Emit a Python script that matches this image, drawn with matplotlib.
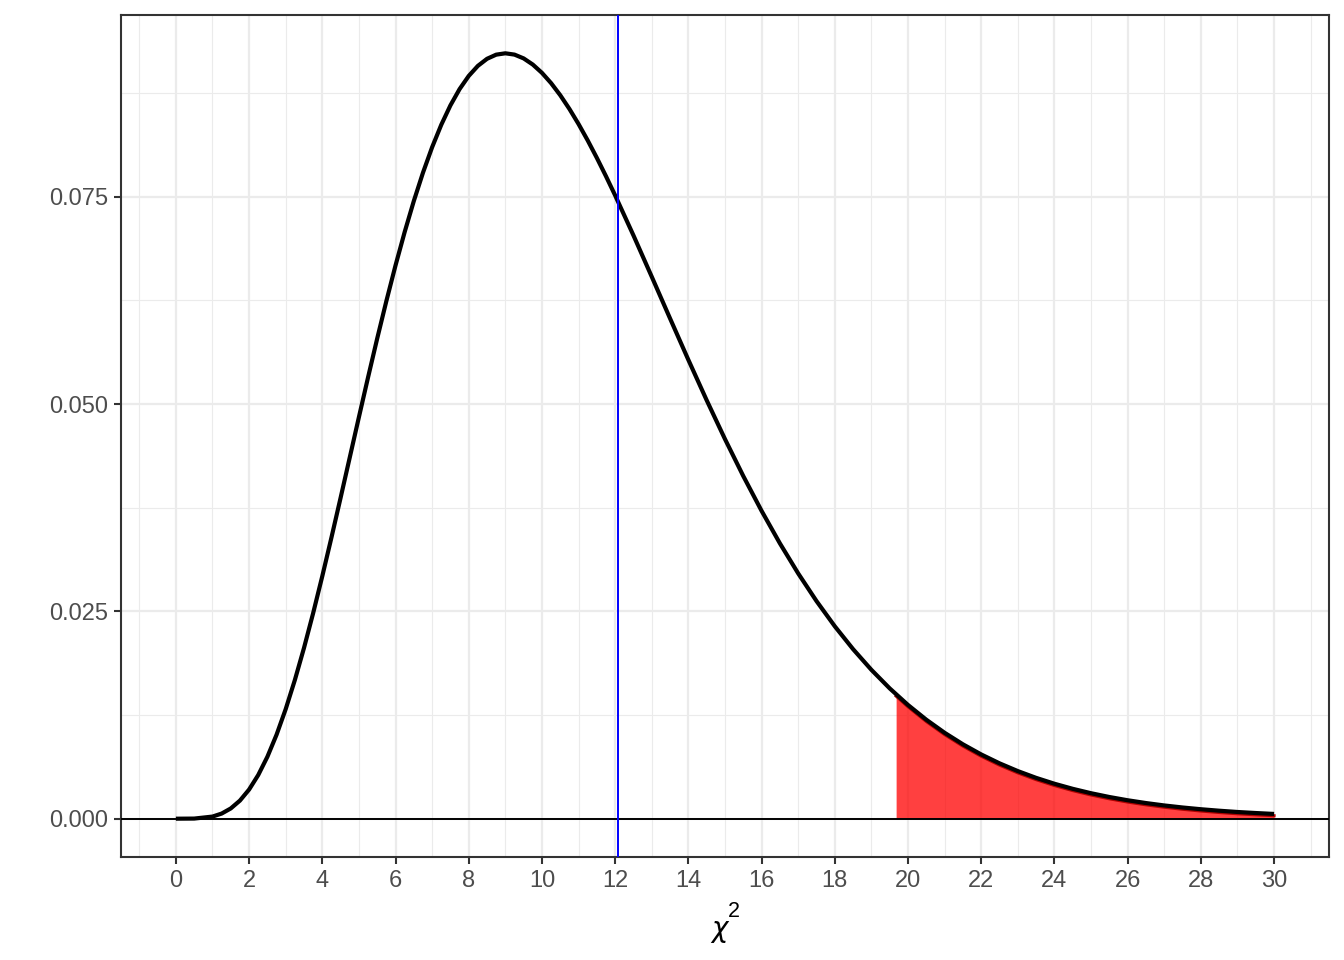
import matplotlib
matplotlib.use('Agg')

import matplotlib.pyplot as plt
from matplotlib.ticker import MultipleLocator
from matplotlib.transforms import offset_copy
import numpy as np

plt.rcParams['font.family'] = ['Liberation Sans', 'DejaVu Sans']

# chi-square density (df = 11)
# finer steps around the peak, 0.5 elsewhere
chi_x = np.concatenate([[0.0, 0.5], np.arange(1.0, 12.0, 0.25), np.arange(12.0, 30.5, 0.5)])
chi_density = [
    0.0, 0.0000145,
    0.000256, 0.000617, 0.001237, 0.002184, 0.003514, 0.005269, 0.007471, 0.010124,
    0.013216, 0.016720, 0.020596, 0.024793, 0.029253, 0.033913, 0.038707, 0.043567,
    0.048430, 0.053233, 0.057918, 0.062431, 0.066725, 0.070759, 0.074498, 0.077913,
    0.080984, 0.083693, 0.086032, 0.087994, 0.089581, 0.090796, 0.091648, 0.092148,
    0.092311, 0.092154, 0.091695, 0.090954, 0.089953, 0.088713, 0.087256, 0.085604,
    0.083779, 0.081803, 0.079695, 0.077478,
    0.075169, 0.070347, 0.065361, 0.060327, 0.055336, 0.050467, 0.045782, 0.041323,
    0.037125, 0.033207, 0.029580, 0.026247, 0.023204, 0.020443, 0.017951, 0.015714,
    0.013715, 0.011936, 0.010361, 0.008970, 0.007747, 0.006676, 0.005740, 0.004924,
    0.004216, 0.003603, 0.003073, 0.002616, 0.002224, 0.001887, 0.001598, 0.001352,
    0.001142, 0.000963, 0.000809, 0.000684, 0.000573,
]

# rejection region starts at the critical value
crit_x = 19.675
crit_y = 0.01500

# observed statistic
observed = 12.07

chi_density = np.array(chi_density)

fig = plt.figure(figsize=(13.44, 9.6), dpi=100)
ax = fig.add_axes([0.0900, 0.10729, 0.89884, 0.87708])

# red tail area
mask = chi_x > crit_x
fill_x = np.concatenate([[crit_x], chi_x[mask]])
fill_y = np.concatenate([[crit_y], chi_density[mask]])
ax.fill_between(fill_x, 0, fill_y, color='red', alpha=0.75, linewidth=0, zorder=2)
ax.plot(fill_x, fill_y, color='#B00000', lw=2.2, zorder=2.5,
        transform=offset_copy(ax.transData, fig=fig, y=-1.8, units='dots'))

ax.axhline(0, color='black', lw=1.4, zorder=3)
ax.plot(chi_x, chi_density, color='black', lw=3.0, zorder=4,
        solid_capstyle='butt', solid_joinstyle='round')
ax.axvline(observed, color='blue', lw=1.4, zorder=5)

ax.set_xlim(-1.5, 31.5)
ax.set_ylim(-0.00462, 0.09693)

ax.xaxis.set_major_locator(MultipleLocator(2))
ax.xaxis.set_minor_locator(MultipleLocator(1))
ax.yaxis.set_minor_locator(MultipleLocator(0.0125))
ax.set_yticks([0, 0.025, 0.05, 0.075])
ax.set_yticklabels(['0.000', '0.025', '0.050', '0.075'])

ax.grid(which='major', color='#EBEBEB', lw=1.6, zorder=0)
ax.grid(which='minor', color='#EBEBEB', lw=0.8, zorder=0)
ax.set_axisbelow(True)

for s in ax.spines.values():
    s.set_color('#333333')
    s.set_linewidth(1.5)

ax.tick_params(which='major', length=5, width=1.5, color='#333333',
               labelcolor='#4D4D4D', labelsize=17, pad=4)
ax.tick_params(which='minor', length=0)

# x axis title: chi with a raised 2
fig.text(719 / 1344, 1 - 929 / 960, 'χ', ha='center', va='center', fontsize=20,
         family=['DejaVu Sans'], style='italic', color='black')
fig.text(727.5 / 1344, 1 - 911.5 / 960, '2', ha='left', va='center', fontsize=15.5,
         color='black')

fig.savefig('out.png', dpi=100, facecolor='white')
